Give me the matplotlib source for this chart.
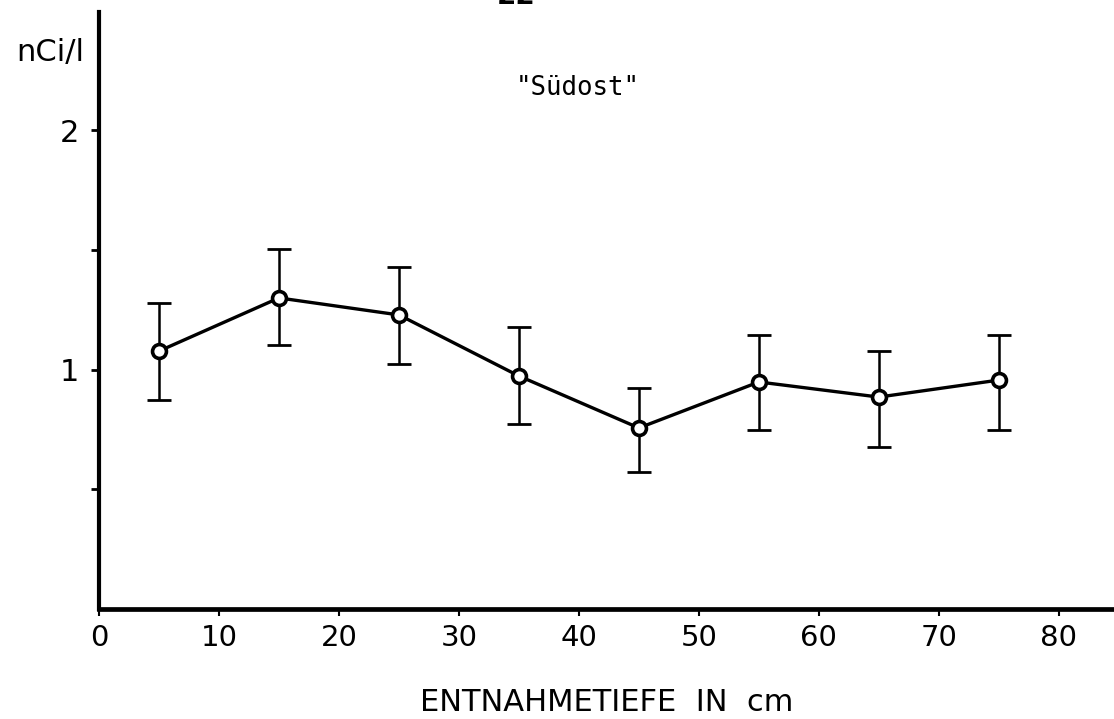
import matplotlib
matplotlib.use("Agg")
import matplotlib.pyplot as plt
from matplotlib.ticker import FixedLocator, FixedFormatter

# Probenahme "Südost": Konzentration je Entnahmetiefe mit Fehlergrenzen
depth_cm = [5, 15, 25, 35, 45, 55, 65, 75]
conc = [1.077, 1.299, 1.228, 0.973, 0.756, 0.948, 0.885, 0.956]
conc_upper = [1.278, 1.503, 1.428, 1.177, 0.923, 1.144, 1.077, 1.144]
conc_lower = [0.873, 1.102, 1.023, 0.772, 0.572, 0.747, 0.676, 0.747]

x_ticks = [0, 10, 20, 30, 40, 50, 60, 70, 80]
y_ticks = [0.5, 1, 1.5, 2]
y_ticklabels = ["", "1", "", "2"]

plt.rcParams["font.family"] = ["DejaVu Sans"]

yerr = [[c - lo for c, lo in zip(conc, conc_lower)],
        [hi - c for c, hi in zip(conc, conc_upper)]]

fig = plt.figure(figsize=(11.14, 7.19), dpi=100)
ax = fig.add_axes([99 / 1114, 110 / 719, 1 - 99 / 1114, 597 / 719])

ax.errorbar(depth_cm, conc, yerr=yerr, fmt="none", ecolor="black",
            elinewidth=1.8, capsize=8.3, capthick=2.0, zorder=2)
ax.plot(depth_cm, conc, color="black", lw=2.4, marker="o", ms=10,
        mfc="white", mec="black", mew=2.6, zorder=3)

ax.set_xlim(0, 84.6)
ax.set_ylim(0, 2.493)

for side in ["top", "right"]:
    ax.spines[side].set_visible(False)
ax.spines["left"].set_linewidth(3.0)
ax.spines["bottom"].set_linewidth(3.4)

ax.xaxis.set_major_locator(FixedLocator(x_ticks))
ax.set_xticklabels([str(t) for t in x_ticks])
ax.yaxis.set_major_locator(FixedLocator(y_ticks))
ax.yaxis.set_major_formatter(FixedFormatter(y_ticklabels))
ax.tick_params(axis="x", direction="out", length=5, width=1.5, pad=6,
               labelsize=21)
ax.tick_params(axis="y", direction="out", length=6, width=2.0, pad=8,
               labelsize=22)

ax.set_xlabel("ENTNAHMETIEFE  IN  cm", fontsize=22, labelpad=26)
fig.text(50 / 1114, 1 - 53 / 719, "nCi/l", fontsize=22,
         ha="center", va="center")
fig.text(578 / 1114, 1 - 88 / 719, '"Südost"', fontsize=18.5,
         family="DejaVu Sans Mono", ha="center", va="center")

# Seitenzahl am oberen Rand, nur der untere Teil liegt im Bild
fig.text(516 / 1114, 1 - 4 / 719, "22", fontsize=20, fontweight="bold",
         ha="center", va="baseline")

fig.savefig("out.png", dpi=100, facecolor="white")
